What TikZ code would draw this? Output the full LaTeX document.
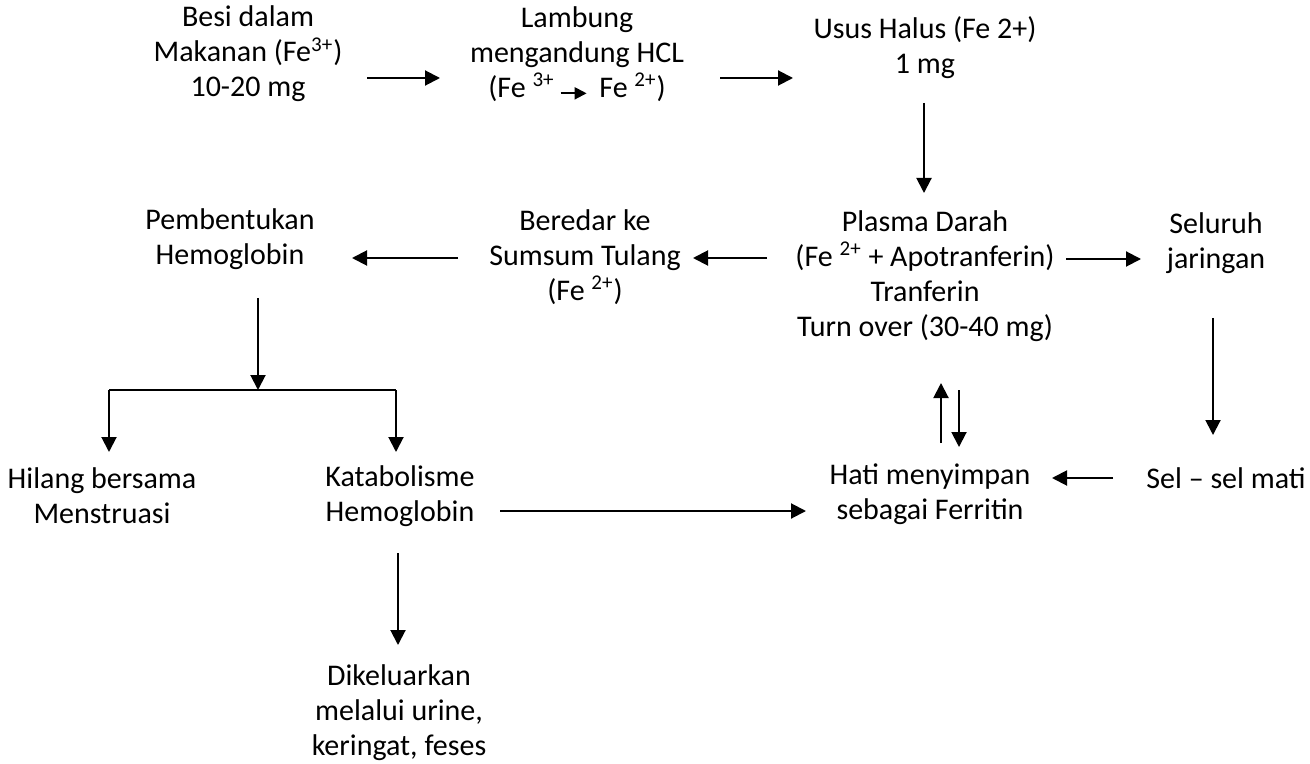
\documentclass[tikz,border=0pt]{standalone}
\usepackage{fontspec}
\setmainfont{Carlito}
\usetikzlibrary{calc,arrows.meta}

\begin{document}
\begin{tikzpicture}[x=.5pt,y=-.5pt,font=\fontsize{15}{17.5}\selectfont,
      >={Triangle[length=7.5pt,width=7.5pt]},
      stage/.style={align=center,inner sep=0pt},
      flow/.style={->,line width=1pt}]
      \useasboundingbox (0,0) rectangle (1310,764);
      % baris atas
      \node[stage] (besi) at (248,54) {Besi dalam\\Makanan (Fe\textsuperscript{3+})\\10-20 mg};
      \node[stage] (lambung) at (577,54) {Lambung\\mengandung HCL\\(Fe \textsuperscript{3+}\,\tikz[baseline=0pt]\draw[line width=1pt,-{Triangle[length=6pt,width=6pt]}] (0,2pt) -- (13pt,2pt);\, Fe \textsuperscript{2+})};
      \node[stage] (usus) at (925,48) {Usus Halus (Fe 2+)\\1 mg};
      % baris tengah
      \node[stage] (plasma) at (925,276) {Plasma Darah\\(Fe \textsuperscript{2+} + Apotranferin)\\Tranferin\\Turn over (30-40 mg)};
      \node[stage] (seluruh) at (1216,243) {Seluruh\\jaringan};
      \node[stage] (beredar) at (585,257) {Beredar ke\\Sumsum Tulang\\(Fe \textsuperscript{2+})};
      \node[stage] (bentuk) at (230,239) {Pembentukan\\Hemoglobin};
      % baris bawah
      \node[stage] (hilang) at (102,496) {Hilang bersama\\Menstruasi};
      \node[stage] (katabol) at (400,496) {Katabolisme\\Hemoglobin};
      \node[stage] (keluar) at (399,713) {Dikeluarkan\\melalui urine,\\keringat, feses};
      \node[stage] (hati) at (930,494) {Hati menyimpan\\sebagai Ferritin};
      \node[stage] (sel) at (1226,478) {Sel -- sel mati};
      \coordinate (cabang) at ($(bentuk)+(28,151)$);
      \coordinate (kiri) at ($(hilang)+(7,-106)$);
      \coordinate (kanan) at ($(katabol)+(-4,-106)$);
      % panah
      \draw[flow] ($(besi)+(119,24)$) -- ($(lambung)+(-137,24)$);
      \draw[flow] ($(lambung)+(143,24)$) -- ($(usus)+(-132,30)$);
      \draw[flow] ($(usus)+(-1,55)$) -- ($(plasma)+(-1,-83)$);
      \draw[flow] ($(plasma)+(141,-17)$) -- ($(seluruh)+(-75,16)$);
      \draw[flow] ($(plasma)+(-158,-18)$) -- ($(beredar)+(108,1)$);
      \draw[flow] ($(beredar)+(-127,1)$) -- ($(bentuk)+(122,19)$);
      \draw[flow] ($(bentuk)+(28,59)$) -- (cabang);
      \draw[line width=1pt] (kiri) -- (kanan);
      \draw[flow] (kiri) -- ($(hilang)+(7,-44)$);
      \draw[flow] (kanan) -- ($(katabol)+(-4,-44)$);
      \draw[flow] ($(katabol)+(-2,57)$) -- ($(keluar)+(-1,-68)$);
      \draw[flow] ($(katabol)+(100,15)$) -- ($(hati)+(-124,17)$);
      \draw[flow] ($(hati)+(11,-51)$) -- ($(plasma)+(16,107)$);
      \draw[flow] ($(plasma)+(34,114)$) -- ($(hati)+(29,-47)$);
      \draw[flow] ($(seluruh)+(-3,75)$) -- ($(sel)+(-13,-43)$);
      \draw[flow] ($(sel)+(-113,0)$) -- ($(hati)+(122,-16)$);
    \end{tikzpicture}
\end{document}
